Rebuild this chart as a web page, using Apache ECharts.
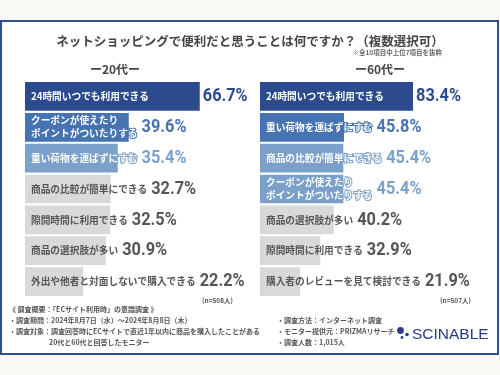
<!DOCTYPE html>
<html>
<head>
<meta charset="utf-8">
<script src="https://cdn.jsdelivr.net/npm/echarts@6/dist/echarts.min.js"></script>
<style>
html,body{margin:0;padding:0;background:#fbfaf7;}
#main{width:500px;height:375px;}
</style>
</head>
<body>
<div id="main"></div>
<script>
// 20代
var cats20 = ['24時間いつでも利用できる', 'クーポンが使えたり\nポイントがついたりする', '重い荷物を運ばずにすむ',
	'商品の比較が簡単にできる', '隙間時間に利用できる', '商品の選択肢が多い', '外出や他者と対面しないで購入できる'];
var vals20 = [66.7, 39.6, 35.4, 32.7, 32.5, 30.9, 22.2];
// 60代
var cats60 = ['24時間いつでも利用できる', '重い荷物を運ばずにすむ', '商品の比較が簡単にできる',
	'クーポンが使えたり\nポイントがついたりする', '商品の選択肢が多い', '隙間時間に利用できる', '購入者のレビューを見て検討できる'];
var vals60 = [83.4, 45.8, 45.4, 45.4, 40.2, 32.9, 21.9];
var n20 = '(n=508人)', n60 = '(n=507人)';

var rankColors = ['#2b4b8c', '#4673b1', '#7ba1cb'];
var greyBar = '#d9d9d9', greyText = '#555555';
var CJK = '"Noto Sans CJK JP", sans-serif';
var labelSize = 9.7;

// 上位3位（同率含む）だけ色付き
function rankOf(vals, i){
	return vals.filter(function(v){ return v > vals[i]; }).length;
}
function barColor(vals, i){ var r = rankOf(vals, i); return r < 3 ? rankColors[r] : greyBar; }
function valColor(vals, i){ var r = rankOf(vals, i); return r < 3 ? rankColors[r] : greyText; }

var ctx = document.createElement('canvas').getContext('2d');
ctx.font = 'bold ' + labelSize + 'px ' + CJK;
function textWidth(t){
	return Math.max.apply(null, t.split('\n').map(function(s){ return ctx.measureText(s).width; }));
}

function makeSeries(idx, cats, vals){
	return [
		{
			type: 'bar', xAxisIndex: idx, yAxisIndex: idx,
			barCategoryGap: '7%', silent: true,
			label: {
				show: true, position: 'insideLeft', distance: 6,
				fontFamily: CJK, fontSize: labelSize, fontWeight: 'bold', lineHeight: 13,
				formatter: function(p){ return cats[p.dataIndex]; }
			},
			data: vals.map(function(v, i){
				var c = barColor(vals, i), colored = c !== greyBar;
				return {
					value: v,
					itemStyle: { color: c },
					label: colored ? { color: '#fff', textBorderColor: c, textBorderWidth: 2 } : { color: greyText }
				};
			})
		},
		{
			// 数値ラベル：バー端か項目名の後ろの右側
			type: 'custom', xAxisIndex: idx, yAxisIndex: idx, silent: true,
			encode: { x: 0, y: 1 },
			renderItem: function(params, api){
				var i = api.value(1), v = api.value(0);
				var end = api.coord([v, i]), start = api.coord([0, i]);
				var x = Math.max(end[0], start[0] + 6 + textWidth(cats[i]) + 1) + 3;
				return {
					type: 'text', x: x, y: end[1], scaleX: 0.86,
					style: {
						text: v.toFixed(1) + '%', fill: valColor(vals, i),
						fontFamily: 'Roboto, sans-serif', fontSize: 19, fontWeight: 'bold',
						align: 'left', verticalAlign: 'middle'
					}
				};
			},
			data: vals.map(function(v, i){ return [v, i]; })
		}
	];
}

function footText(x, y, t){
	return { type: 'text', left: x, top: y, style: { text: t, fontFamily: CJK, fontSize: 7, fontWeight: 'bold', fill: greyText } };
}

var option = {
	backgroundColor: '#fbfaf7',
	animation: false,
	grid: [
		{ left: 25, top: 81, width: 262, height: 216 },
		{ left: 260, top: 81, width: 183.5, height: 216 }
	],
	xAxis: [
		{ gridIndex: 0, type: 'value', min: 0, max: 100, show: false },
		{ gridIndex: 1, type: 'value', min: 0, max: 100, show: false }
	],
	yAxis: [
		{ gridIndex: 0, type: 'category', inverse: true, data: cats20, show: false },
		{ gridIndex: 1, type: 'category', inverse: true, data: cats60, show: false }
	],
	graphic: [
		{ type: 'rect', z: -10, shape: { x: 1, y: 21, width: 497, height: 333 },
		  style: { fill: '#ffffff', stroke: '#2f4f8f', lineWidth: 2 } },
		{ type: 'text', x: 250, y: 41, style: { text: 'ネットショッピングで便利だと思うことは何ですか？（複数選択可）',
			fontFamily: CJK, fontSize: 12.5, fontWeight: 'bold', fill: '#444', align: 'center', verticalAlign: 'middle' } },
		{ type: 'text', x: 442, y: 53, style: { text: '※全10項目中上位7項目を抜粋',
			fontFamily: CJK, fontSize: 6.5, fontWeight: 'bold', fill: '#666', align: 'right', verticalAlign: 'middle' } },
		{ type: 'text', x: 115, y: 69, style: { text: 'ー20代ー', fontFamily: CJK, fontSize: 12, fontWeight: 'bold',
			fill: '#444', align: 'center', verticalAlign: 'middle' } },
		{ type: 'text', x: 380, y: 69, style: { text: 'ー60代ー', fontFamily: CJK, fontSize: 12, fontWeight: 'bold',
			fill: '#444', align: 'center', verticalAlign: 'middle' } },
		{ type: 'text', x: 233, y: 301, style: { text: n20, fontFamily: CJK, fontSize: 6.5, fontWeight: 'bold',
			fill: greyText, align: 'right', verticalAlign: 'middle' } },
		{ type: 'text', x: 471, y: 301, style: { text: n60, fontFamily: CJK, fontSize: 6.5, fontWeight: 'bold',
			fill: greyText, align: 'right', verticalAlign: 'middle' } },
		footText(9, 306, '《 調査概要：「ECサイト利用時」の意識調査 》'),
		footText(9, 317, '・調査期間：2024年8月7日（水）～2024年8月8日（木）'),
		footText(9, 328, '・調査対象：調査回答時にECサイトで直近1年以内に商品を購入したことがある'),
		footText(49, 339, '20代と60代と回答したモニター'),
		footText(277, 317, '・調査方法：インターネット調査'),
		footText(277, 328, '・モニター提供元：PRIZMAリサーチ'),
		footText(277, 339, '・調査人数：1,015人'),
		// ロゴ
		{ type: 'circle', shape: { cx: 400.5, cy: 330.5, r: 3.4 }, style: { fill: '#2a3a8c' } },
		{ type: 'circle', shape: { cx: 402, cy: 337.5, r: 1.4 }, style: { fill: '#2a3a8c' } },
		{ type: 'circle', shape: { cx: 407, cy: 334.5, r: 1.8 }, style: { fill: '#2a3a8c' } },
		{ type: 'text', x: 412, y: 334.5, style: { text: 'SCINABLE', fontFamily: '"Liberation Sans", Arial, sans-serif',
			fontSize: 15.5, fill: '#2a3a8c', verticalAlign: 'middle' } }
	],
	series: makeSeries(0, cats20, vals20).concat(makeSeries(1, cats60, vals60))
};

var chart = echarts.init(document.getElementById('main'));
chart.setOption(option);
</script>
</body>
</html>
